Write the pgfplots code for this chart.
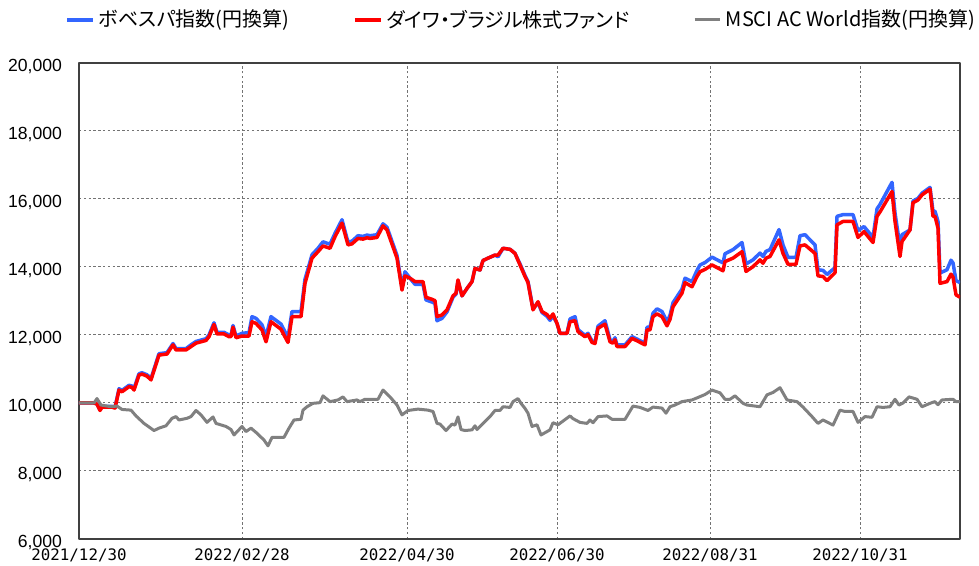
\documentclass[border=0pt]{standalone}
\usepackage{fontspec}
\setmainfont{Liberation Sans}
\newfontfamily\jp[RawFeature=+palt]{Noto Sans CJK JP}
\newfontfamily\monof{DejaVu Sans Mono}
\usepackage{pgfplots}
\usepackage{pgfplotstable}
\pgfplotsset{compat=1.18}
\definecolor{cblue}{RGB}{51,102,255}
\definecolor{cred}{RGB}{255,0,0}
\definecolor{cgray}{RGB}{128,128,128}
\pgfplotstableread{
x red gap
79 10000 0
94 10000 0
97 9970 0
100 9780 20
102 9880 20
112 9880 20
115 9850 20
119 10380 40
122 10330 40
129 10480 40
132 10460 40
134 10380 40
139 10820 40
142 10850 40
147 10790 40
151 10680 40
159 11410 40
167 11440 40
173 11710 40
176 11560 40
186 11560 40
191 11660 50
196 11760 50
206 11840 50
209 11950 50
214 12310 50
217 12030 50
224 12030 50
229 11950 50
231 11950 50
233 12230 50
236 11920 50
242 11970 80
249 11970 100
252 12390 150
256 12340 150
262 12150 150
266 11800 150
271 12390 150
281 12170 150
284 12000 150
288 11780 150
292 12540 150
301 12540 150
305 13520 120
312 14260 100
318 14450 100
323 14620 120
330 14550 120
335 14890 100
342 15290 100
348 14650 80
352 14680 80
358 14840 80
363 14820 80
367 14860 80
370 14840 80
377 14870 80
383 15210 60
387 15090 80
397 14260 80
402 13320 80
405 13740 120
410 13670 0
415 13570 -80
423 13570 -80
426 13110 -80
432 13050 -80
435 13010 -80
437 12540 -120
442 12590 -100
447 12740 -60
453 13150 -40
456 13230 -30
458 13620 -30
462 13150 0
467 13370 0
472 13570 0
475 13960 0
480 13910 0
483 14190 0
488 14260 0
495 14350 0
498 14350 -50
503 14550 0
510 14520 0
515 14400 0
520 14060 30
525 13720 30
528 13540 30
533 12740 30
538 12980 -30
542 12690 -30
547 12600 -50
550 12490 -60
553 12620 -60
557 12340 0
560 12050 0
567 12050 0
570 12390 80
575 12420 120
578 12100 60
585 11950 40
588 12010 40
592 11780 40
595 11750 40
598 12200 60
605 12320 100
610 11800 60
613 11760 60
615 11860 60
617 11660 50
625 11660 50
632 11900 50
637 11830 50
645 11710 50
647 12150 80
650 12150 80
653 12540 100
657 12620 150
662 12540 150
667 12270 120
670 12460 120
673 12830 120
682 13230 120
685 13540 130
692 13420 150
697 13720 180
700 13860 200
705 13930 200
712 14060 230
723 13890 230
725 14160 230
733 14260 250
742 14450 270
746 13870 220
753 14010 200
760 14210 200
763 14110 200
766 14260 200
770 14310 200
779 14800 300
783 14400 250
788 14080 200
796 14080 200
800 14620 300
805 14650 300
815 14400 250
818 13740 180
823 13720 180
827 13600 180
835 13830 150
837 15240 250
843 15340 200
853 15340 200
858 14870 200
864 15040 150
873 14720 150
877 15490 220
880 15620 220
892 16220 270
895 15340 250
900 14310 280
902 14750 200
910 15090 0
913 15890 50
918 15970 50
922 16120 50
930 16290 50
933 15490 150
935 15490 150
938 15140 200
940 13520 300
947 13570 350
951 13790 410
953 13700 420
956 13180 420
960 13110 430
}\fundtable
\pgfplotstableread{
x y
79 10000
94 10000
97 10130
101 9940
111 9890
117 9910
122 9810
131 9790
136 9620
144 9400
154 9190
159 9260
166 9330
172 9550
176 9600
179 9500
187 9550
191 9600
196 9780
201 9650
207 9430
213 9590
216 9400
226 9310
231 9220
234 9060
242 9310
246 9160
251 9260
257 9110
264 8910
268 8740
272 8990
284 8990
289 9260
294 9500
301 9520
303 9790
307 9890
313 9990
320 10010
323 10210
330 10040
338 10090
343 10180
347 10040
357 10090
360 10040
365 10110
378 10110
383 10380
390 10180
397 9940
402 9650
408 9780
418 9820
428 9790
433 9750
437 9400
440 9380
446 9190
452 9380
455 9350
458 9590
461 9220
465 9190
472 9210
475 9330
477 9220
483 9400
490 9600
495 9780
500 9780
503 9890
510 9870
513 10040
518 10130
521 9990
525 9840
528 9700
532 9310
537 9360
541 9060
550 9210
553 9420
558 9360
570 9620
573 9540
580 9430
587 9400
590 9500
593 9420
598 9600
607 9620
612 9520
625 9520
633 9910
640 9870
648 9780
653 9880
662 9850
666 9700
670 9890
675 9940
682 10040
692 10090
697 10150
705 10250
712 10380
720 10300
725 10110
730 10110
735 10210
743 9990
747 9940
760 9890
767 10240
773 10310
780 10450
787 10090
797 10040
803 9880
812 9600
818 9400
823 9500
833 9350
840 9790
845 9750
853 9750
858 9430
865 9600
872 9580
877 9890
883 9870
890 9890
895 10110
899 9940
903 10000
909 10180
917 10110
922 9890
930 9990
935 10040
938 9950
942 10090
953 10110
956 10040
960 10040
}\msci
\begin{document}
\begin{tikzpicture}
\begin{axis}[
  scale only axis, width=440.5pt, height=238pt,
  xmin=79, xmax=960, ymin=6000, ymax=20000,
  xtick={79,242,407,557,710,860},
  xticklabels={2021/12/30,2022/02/28,2022/04/30,2022/06/30,2022/08/31,2022/10/31},
  ytick={6000,8000,10000,12000,14000,16000,18000,20000},
  scaled y ticks=false,
  yticklabel style={font=\fontsize{8.8}{10}\selectfont, xshift=-5pt, yshift=-1.5pt,
    /pgf/number format/fixed, /pgf/number format/precision=0,
    /pgf/number format/1000 sep={,}, /pgf/number format/assume math mode=true},
  xticklabel style={font=\monof\fontsize{7.9}{9}\selectfont, yshift=-1.5pt},
  grid=major,
  major grid style={dash pattern=on 1.2pt off 1.2pt, black!55, line width=0.5pt},
  major tick length=0pt,
  axis line style={black!75, line width=0.9pt},
  legend columns=3,
  legend style={draw=none, fill=none, at={(0.5,1)}, anchor=center, yshift=21.5pt, xshift=1.5pt,
    font=\jp\fontsize{10}{12}\selectfont,
    /tikz/every even column/.append style={column sep=30pt}},
  legend image code/.code={\draw[#1] (0cm,0cm) -- (0.45cm,0cm);},
  line join=round,
]
\addplot[cblue, line width=1.75pt] table[x=x, y expr=\thisrow{red}+\thisrow{gap}] {\fundtable};
\addlegendentry{ボベスパ指数(円換算)}
\addplot[cred, line width=1.75pt] table[x=x, y=red] {\fundtable};
\addlegendentry{ダイワ・ブラジル株式ファンド}
\addplot[cgray, line width=1.5pt] table[x=x, y=y] {\msci};
\addlegendentry{MSCI AC World指数(円換算)}
\coordinate (bl) at (rel axis cs:0,0);
\coordinate (tr) at (rel axis cs:1,1);
\end{axis}
\pgfresetboundingbox
\path[use as bounding box] ([shift={(-39.5pt,-13.5pt)}]bl) rectangle ([shift={(9.5pt,31.5pt)}]tr);
\end{tikzpicture}
\end{document}
